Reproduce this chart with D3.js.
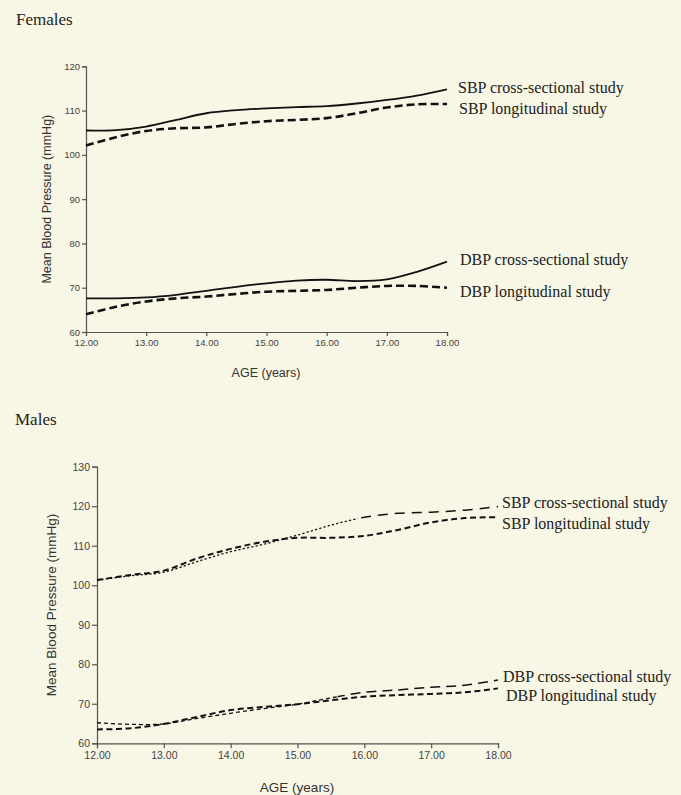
<!DOCTYPE html>
<html>
<head>
<meta charset="utf-8">
<script src="https://cdn.jsdelivr.net/npm/d3@7"></script>
<style>
  html, body { margin: 0; padding: 0; background: #f8f6e4; }
  svg { display: block; }
</style>
</head>
<body>
<svg id="chart" width="681" height="795"></svg>
<script>
// ---- data ----
const ages = [12, 12.5, 13, 13.5, 14, 14.5, 15, 15.5, 16, 16.5, 17, 17.5, 18];
const xTicks = [12, 13, 14, 15, 16, 17, 18];
const femYTicks = [60, 70, 80, 90, 100, 110, 120];
const maleYTicks = [60, 70, 80, 90, 100, 110, 120, 130];
const seriesNames = ["SBP cross-sectional study", "SBP longitudinal study", "DBP cross-sectional study", "DBP longitudinal study"];

const femSbpCross = [105.5, 105.6, 106.4, 107.9, 109.4, 110.1, 110.5, 110.8, 111.0, 111.6, 112.4, 113.4, 114.8];
const femSbpLong  = [102.1, 104.0, 105.4, 106.0, 106.2, 107.0, 107.6, 107.9, 108.3, 109.4, 110.7, 111.4, 111.5];
const femDbpCross = [67.6, 67.6, 67.8, 68.4, 69.3, 70.2, 71.0, 71.6, 71.8, 71.5, 71.9, 73.6, 75.9];
const femDbpLong  = [64.0, 65.7, 66.9, 67.6, 68.0, 68.6, 69.1, 69.3, 69.5, 70.0, 70.4, 70.4, 70.0];

const maleSbpCross = [101.3, 102.4, 103.3, 106.0, 108.5, 110.4, 112.7, 115.2, 117.2, 118.2, 118.5, 119.0, 119.9];
const maleSbpLong  = [101.3, 102.6, 103.7, 106.8, 109.2, 111.0, 112.0, 112.0, 112.5, 114.0, 115.9, 117.0, 117.2];
const maleDbpCross = [65.2, 64.8, 64.9, 66.3, 67.6, 68.8, 69.9, 71.5, 72.9, 73.5, 74.2, 74.7, 76.0];
const maleDbpLong  = [63.5, 63.8, 64.9, 66.7, 68.4, 69.2, 69.9, 70.9, 71.8, 72.2, 72.5, 72.9, 73.9];

// ---- layout ----
const svg = d3.select("#chart");
svg.append("rect").attr("width", 681).attr("height", 795).attr("fill", "#f8f6e4");
const defs = svg.append("defs");

const panels = [
  {
    id: "f", title: "Females", titleX: 16, titleY: 25,
    x0: 86, x1: 447, yTop: 66.3, yBot: 332, yDomain: [60, 120], yTicks: femYTicks,
    tickFont: 9.5, tickSize: 4, labelFont: 12.5, yLabelX: 47, xLabelY: 377,
    series: [femSbpCross, femSbpLong, femDbpCross, femDbpLong],
    styles: [
      { w: 1.8, dash: null },
      { w: 2.6, dash: "8,4" },
      { w: 1.8, dash: null },
      { w: 2.6, dash: "8,4" }
    ],
    labelX: [458, 459, 460, 460], labelDy: [4, 10.5, 3.5, 9.5]
  },
  {
    id: "m", title: "Males", titleX: 15, titleY: 425,
    x0: 97, x1: 498, yTop: 466.7, yBot: 743.3, yDomain: [60, 130], yTicks: maleYTicks,
    tickFont: 10.5, tickSize: 5, labelFont: 13.5, yLabelX: 51, xLabelY: 792,
    series: [maleSbpCross, maleSbpLong, maleDbpCross, maleDbpLong],
    styles: [
      { w: 1.3, dash: "2.2,2.2", split: 15.9, w2: 1.5, dash2: "10,7" },
      { w: 2.0, dash: "6,3.5" },
      { w: 1.3, dash: "4,3", split: 15.6, w2: 1.5, dash2: "10,6" },
      { w: 2.0, dash: "6,3.5" }
    ],
    labelX: [502, 502, 503, 506], labelDy: [1.5, 12, 1.5, 12.5]
  }
];

panels.forEach(p => {
  const g = svg.append("g");
  const x = d3.scaleLinear().domain([12, 18]).range([p.x0, p.x1]);
  const y = d3.scaleLinear().domain(p.yDomain).range([p.yBot, p.yTop]);

  g.append("text")
    .attr("x", p.titleX).attr("y", p.titleY)
    .attr("font-family", "'Liberation Serif', 'DejaVu Serif', serif")
    .attr("font-size", 17).attr("fill", "#222")
    .text(p.title);

  const xAxis = g.append("g")
    .attr("transform", `translate(0,${p.yBot})`)
    .call(d3.axisBottom(x).tickValues(xTicks).tickFormat(d3.format(".2f"))
      .tickSize(p.tickSize).tickPadding(3));
  const yAxis = g.append("g")
    .attr("transform", `translate(${p.x0},0)`)
    .call(d3.axisLeft(y).tickValues(p.yTicks).tickFormat(d3.format("d"))
      .tickSize(p.tickSize).tickPadding(2));

  [xAxis, yAxis].forEach(a => {
    a.select(".domain").attr("stroke", "#555").attr("stroke-width", 1.2);
    a.selectAll(".tick line").attr("stroke", "#555").attr("stroke-width", 1.2);
    a.selectAll(".tick text")
      .attr("font-family", "'Liberation Sans', Arial, sans-serif")
      .attr("font-size", p.tickFont).attr("fill", "#444");
  });

  g.append("text")
    .attr("x", (p.x0 + p.x1) / 2 - 0.5).attr("y", p.xLabelY)
    .attr("text-anchor", "middle")
    .attr("font-family", "'Liberation Sans', Arial, sans-serif")
    .attr("font-size", p.labelFont).attr("fill", "#333")
    .text("AGE (years)");

  g.append("text")
    .attr("transform", `translate(${p.yLabelX},${(p.yTop + p.yBot) / 2}) rotate(-90)`)
    .attr("text-anchor", "middle").attr("dy", "0.35em")
    .attr("font-family", "'Liberation Sans', Arial, sans-serif")
    .attr("font-size", p.labelFont).attr("fill", "#333")
    .text("Mean Blood Pressure (mmHg)");

  const line = d3.line()
    .x((d, i) => x(ages[i]))
    .y(d => y(d))
    .curve(d3.curveCatmullRom.alpha(0.5));

  p.series.forEach((s, k) => {
    const st = p.styles[k];
    if (st.split) {
      const xs = x(st.split);
      const cA = `clip-${p.id}-${k}-a`, cB = `clip-${p.id}-${k}-b`;
      defs.append("clipPath").attr("id", cA).append("rect")
        .attr("x", 0).attr("y", 0).attr("width", xs).attr("height", 795);
      defs.append("clipPath").attr("id", cB).append("rect")
        .attr("x", xs).attr("y", 0).attr("width", 681 - xs).attr("height", 795);
      g.append("path").datum(s).attr("d", line)
        .attr("fill", "none").attr("stroke", "#111")
        .attr("stroke-width", st.w).attr("stroke-dasharray", st.dash)
        .attr("clip-path", `url(#${cA})`);
      g.append("path").datum(s).attr("d", line)
        .attr("fill", "none").attr("stroke", "#111")
        .attr("stroke-width", st.w2).attr("stroke-dasharray", st.dash2)
        .attr("clip-path", `url(#${cB})`);
    } else {
      const path = g.append("path")
        .datum(s)
        .attr("d", line)
        .attr("fill", "none")
        .attr("stroke", "#111")
        .attr("stroke-width", st.w);
      if (st.dash) path.attr("stroke-dasharray", st.dash);
    }

    g.append("text")
      .attr("x", p.labelX[k])
      .attr("y", y(s[s.length - 1]) + p.labelDy[k])
      .attr("font-family", "'Liberation Serif', 'DejaVu Serif', serif")
      .attr("font-size", 16).attr("fill", "#222")
      .text(seriesNames[k]);
  });
});
</script>
</body>
</html>
